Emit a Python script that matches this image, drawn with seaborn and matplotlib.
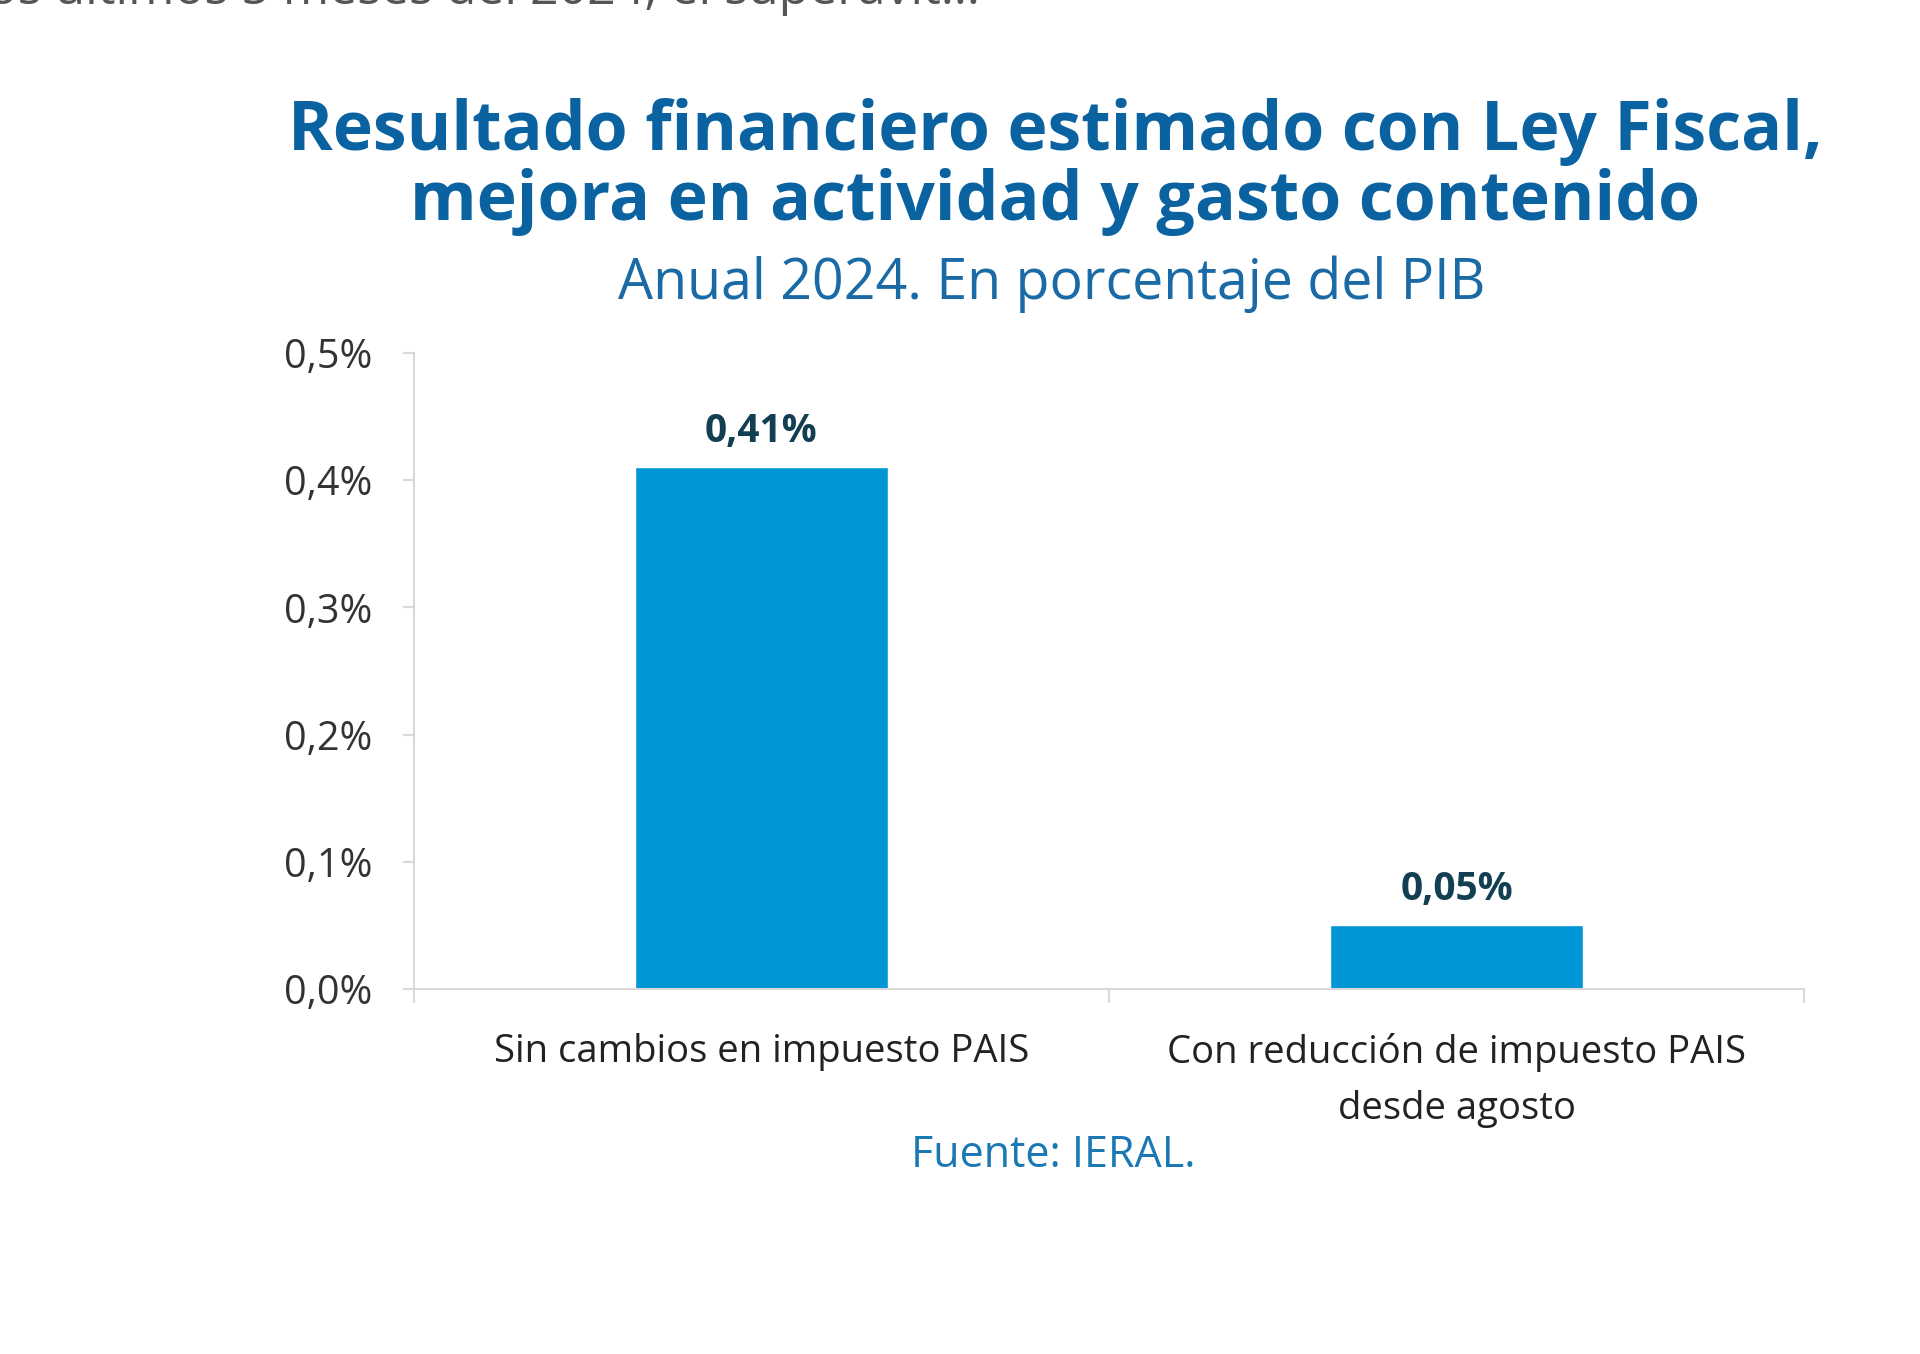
import matplotlib
matplotlib.use("Agg")
import matplotlib.pyplot as plt
import seaborn as sns
import pandas as pd

categories = ["Sin cambios en impuesto PAIS", "Con reducción de impuesto PAIS\ndesde agosto"]
values = [0.41, 0.05]
value_labels = ["0,41%", "0,05%"]
ytick_values = [0.0, 0.1, 0.2, 0.3, 0.4, 0.5]
ytick_labels = ["0,0%", "0,1%", "0,2%", "0,3%", "0,4%", "0,5%"]

title = "Resultado financiero estimado con Ley Fiscal,\nmejora en actividad y gasto contenido"
subtitle = "Anual 2024. En porcentaje del PIB"
source = "Fuente: IERAL."
top_text = "los últimos 5 meses del 2024, el superávit..."

sns.set_theme(style="white")
plt.rcParams["font.family"] = ["Open Sans", "DejaVu Sans"]

df = pd.DataFrame({"cat": categories, "val": values})

fig = plt.figure(figsize=(19.2, 13.54), dpi=100)
W, H = 1920, 1354
ax = fig.add_axes([414 / W, 1 - 989 / H, (1804 - 414) / W, (989 - 353) / H])

sns.barplot(data=df, x="cat", y="val", color="#0096d6", saturation=1, width=0.363, ax=ax)

ax.set_xlim(-0.5, 1.5)
ax.set_ylim(0, 0.5)
ax.set_yticks(ytick_values)
ax.set_yticklabels(ytick_labels, fontsize=28.5, color="#333333")
ax.set_xticks([0, 1])
ax.set_xticklabels(categories, fontsize=27.5, color="#222222", linespacing=1.6)
ax.set_xlabel("")
ax.set_ylabel("")

for s in ["top", "right"]:
    ax.spines[s].set_visible(False)
for s in ["left", "bottom"]:
    ax.spines[s].set_color("#d9d9d9")
    ax.spines[s].set_linewidth(1.5)

ax.tick_params(axis="y", which="major", left=True, length=8, width=1.5, color="#d9d9d9", pad=22)
ax.tick_params(axis="x", which="major", bottom=False, pad=26)
ax.set_xticks([-0.5, 0.5, 1.5], minor=True)
ax.tick_params(axis="x", which="minor", bottom=True, length=10, width=1.5, color="#d9d9d9")

for i, (v, lab) in enumerate(zip(values, value_labels)):
    ax.annotate(lab, (i, v), xytext=(0, 12), textcoords="offset points",
                ha="center", va="bottom", fontsize=28, fontweight="bold", color="#123f52")

fig.text(1055 / W, 1 - 132 / H, title.split("\n")[0], ha="center", va="center",
         fontsize=49, fontweight="bold", color="#0a63a0")
fig.text(1055 / W, 1 - 202 / H, title.split("\n")[1], ha="center", va="center",
         fontsize=49, fontweight="bold", color="#0a63a0")
fig.text(1052 / W, 1 - 284 / H, subtitle, ha="center", va="center",
         fontsize=40, color="#1a6aa5")
fig.text(1053 / W, 1 - 1156 / H, source, ha="center", va="center",
         fontsize=31, color="#1a78b4")
fig.text(-25 / W, 1 - (-9) / H, top_text, ha="left", va="center",
         fontsize=36, color="#555555")

fig.savefig("out.png", dpi=100, facecolor="white")
